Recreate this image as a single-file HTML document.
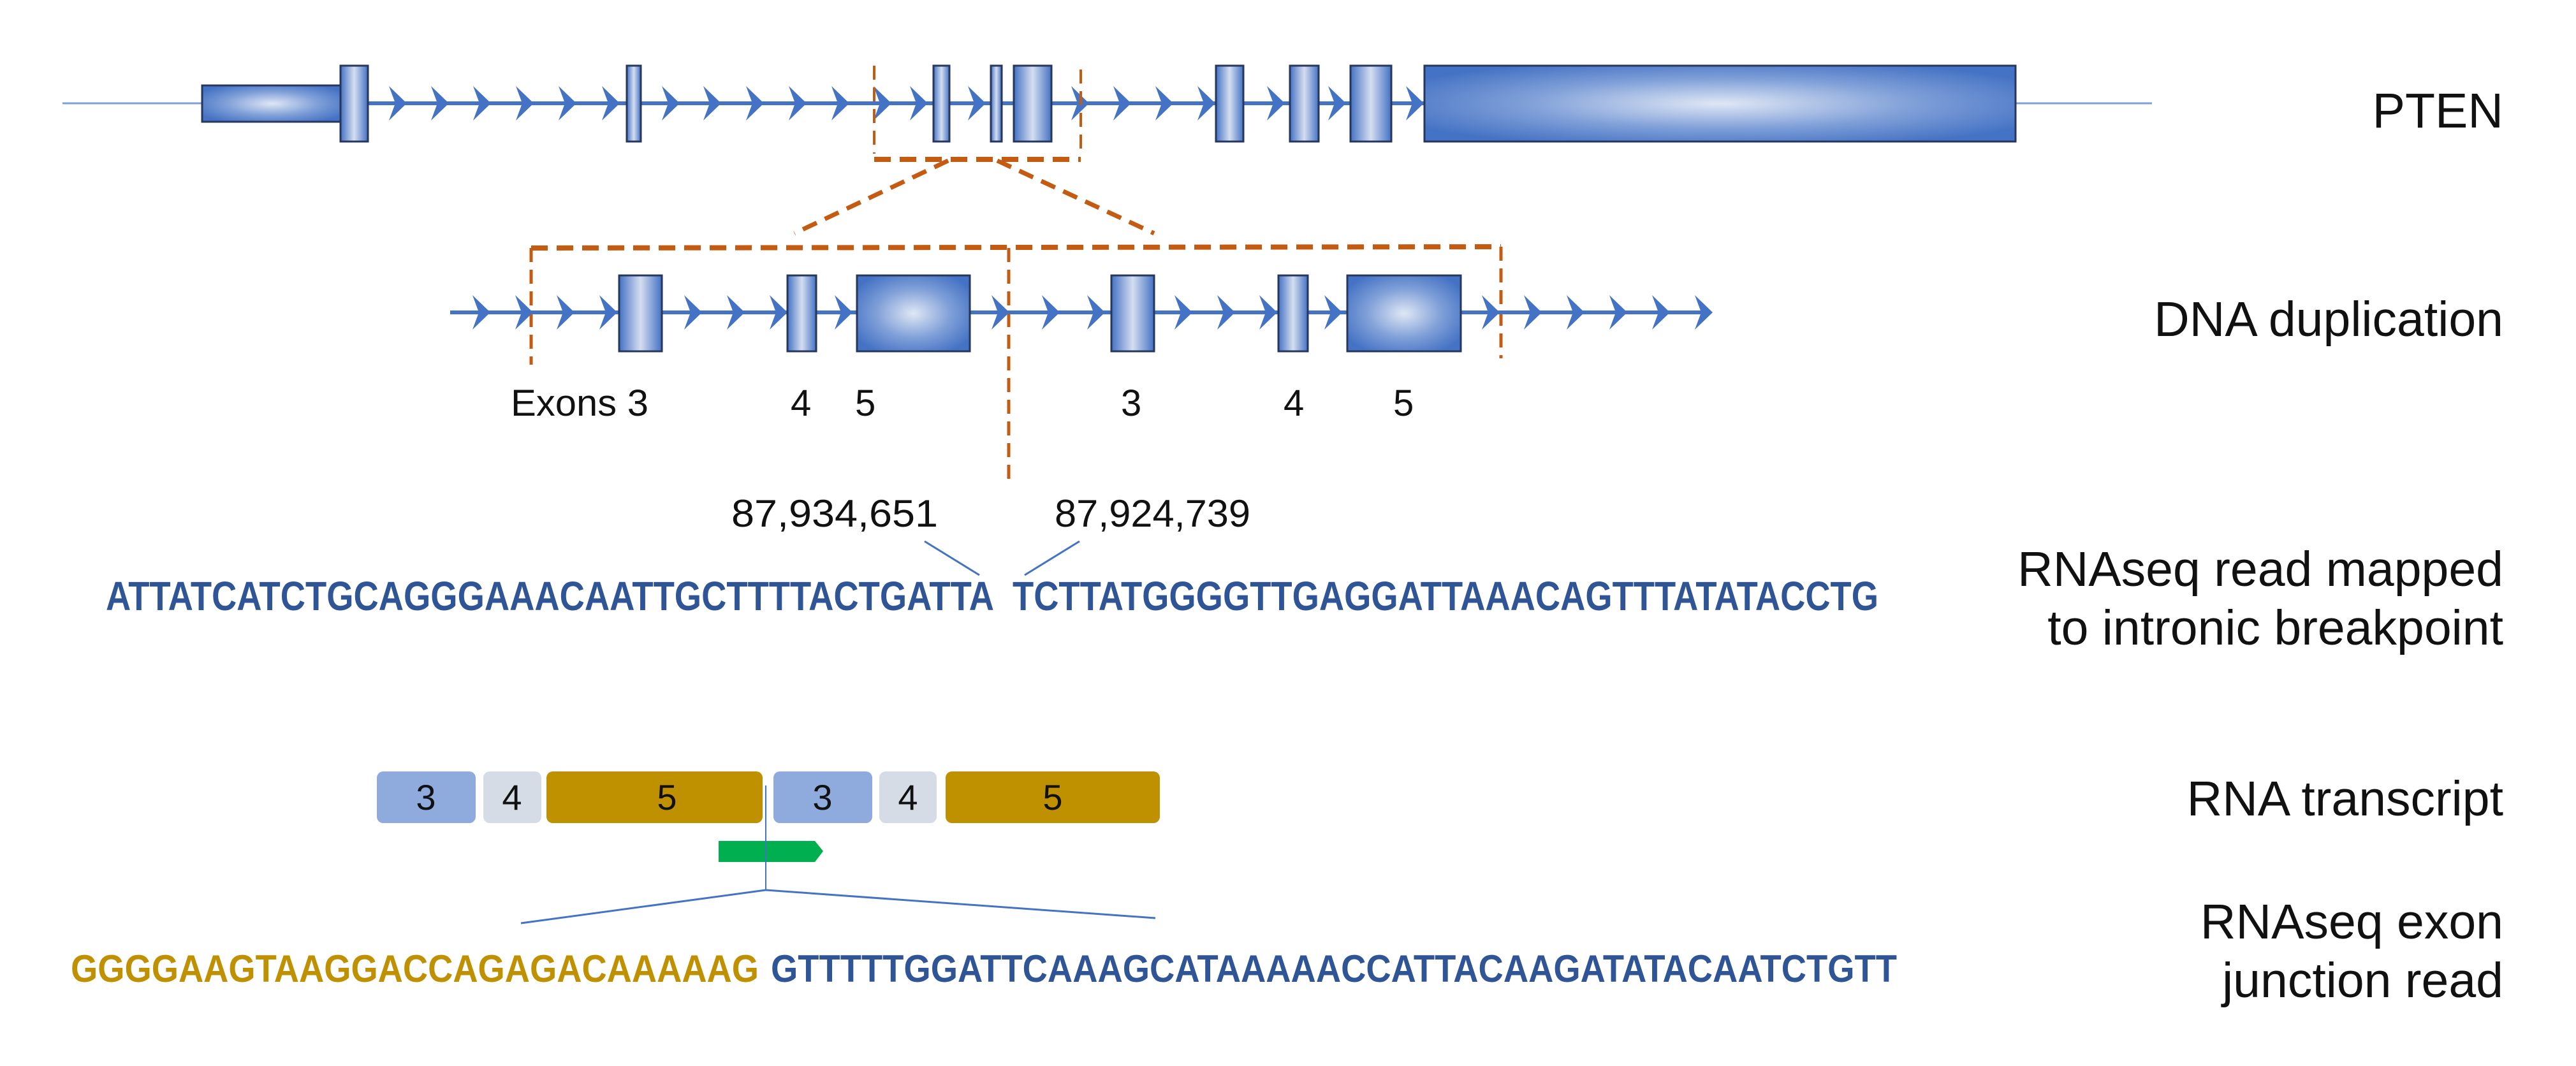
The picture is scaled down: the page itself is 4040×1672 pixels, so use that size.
<!DOCTYPE html>
<html><head><meta charset="utf-8"><style>
html,body{margin:0;padding:0;background:#fff;}
svg{display:block;}
text{font-family:"Liberation Sans",Arial,sans-serif;}
</style></head><body>
<svg width="4040" height="1672" viewBox="0 0 4040 1672" xmlns="http://www.w3.org/2000/svg">
<defs>
<radialGradient id="g" cx="50%" cy="50%" r="60%">
<stop offset="0" stop-color="#dfe7f5"/><stop offset="0.55" stop-color="#7f9fd8"/><stop offset="1" stop-color="#4472c4"/>
</radialGradient>
<linearGradient id="gh" x1="0" x2="1" y1="0" y2="0">
<stop offset="0" stop-color="#4472c4"/><stop offset="0.5" stop-color="#d5def0"/><stop offset="1" stop-color="#4472c4"/>
</linearGradient>
<path id="ar" d="M0,0 L-28,-27 L-18,0 L-28,27 Z" fill="#4472c4"/>
</defs>

<!-- Row 1 -->
<line x1="98" y1="162" x2="317" y2="162" stroke="#7f9fd8" stroke-width="3"/>
<line x1="3161" y1="162" x2="3375" y2="162" stroke="#7f9fd8" stroke-width="3"/>
<line x1="577" y1="162" x2="2234" y2="162" stroke="#4472c4" stroke-width="6"/>
<g>
<use href="#ar" x="638" y="162"/><use href="#ar" x="704" y="162"/><use href="#ar" x="770" y="162"/><use href="#ar" x="837" y="162"/><use href="#ar" x="904" y="162"/><use href="#ar" x="972" y="162"/>
<use href="#ar" x="1066" y="162"/><use href="#ar" x="1131" y="162"/><use href="#ar" x="1198" y="162"/><use href="#ar" x="1265" y="162"/><use href="#ar" x="1332" y="162"/><use href="#ar" x="1398" y="162"/>
<use href="#ar" x="1455" y="162"/><use href="#ar" x="1546" y="162"/>
<use href="#ar" x="1708" y="162"/><use href="#ar" x="1774" y="162"/><use href="#ar" x="1840" y="162"/><use href="#ar" x="1906" y="162"/>
<use href="#ar" x="2015" y="162"/><use href="#ar" x="2111" y="162"/><use href="#ar" x="2233" y="162"/>
</g>
<g stroke="#26365c" stroke-width="3">
<rect x="317" y="134" width="219" height="57" fill="url(#g)"/>
<rect x="534" y="103" width="43" height="119" fill="url(#gh)"/>
<rect x="983" y="103" width="22" height="119" fill="url(#gh)"/>
<rect x="1464" y="103" width="25" height="119" fill="url(#gh)"/>
<rect x="1554" y="103" width="17" height="119" fill="url(#gh)"/>
<rect x="1590" y="103" width="59" height="119" fill="url(#gh)"/>
<rect x="1907" y="103" width="43" height="119" fill="url(#gh)"/>
<rect x="2023" y="103" width="45" height="119" fill="url(#gh)"/>
<rect x="2118" y="103" width="64" height="119" fill="url(#gh)"/>
<rect x="2234" y="103" width="927" height="119" fill="url(#g)"/>
</g>

<!-- orange zoom -->
<g stroke="#c55a11" fill="none">
<line x1="1371" y1="103" x2="1371" y2="241" stroke-width="4" stroke-dasharray="22,12"/>
<line x1="1695" y1="109" x2="1695" y2="234" stroke-width="4" stroke-dasharray="22,12"/>
<line x1="1371" y1="250" x2="1695" y2="250" stroke-width="8" stroke-dasharray="26,14"/>
<line x1="1487" y1="252" x2="1246" y2="366" stroke-width="7" stroke-dasharray="24,14"/>
<line x1="1564" y1="252" x2="1810" y2="366" stroke-width="7" stroke-dasharray="24,14"/>
<line x1="833" y1="389" x2="2354" y2="387" stroke-width="8" stroke-dasharray="26,14"/>
<line x1="833" y1="389" x2="833" y2="572" stroke-width="5" stroke-dasharray="22,12"/>
<line x1="2354" y1="387" x2="2354" y2="562" stroke-width="5" stroke-dasharray="22,12"/>
<line x1="1582" y1="389" x2="1582" y2="762" stroke-width="5" stroke-dasharray="22,12"/>
</g>

<!-- Row 2 -->
<line x1="706" y1="490" x2="2670" y2="490" stroke="#4472c4" stroke-width="6"/>
<g>
<use href="#ar" x="769" y="490"/><use href="#ar" x="836" y="490"/><use href="#ar" x="901" y="490"/><use href="#ar" x="968" y="490"/>
<use href="#ar" x="1101" y="490"/><use href="#ar" x="1168" y="490"/><use href="#ar" x="1235" y="490"/><use href="#ar" x="1337" y="490"/>
<use href="#ar" x="1583" y="490"/><use href="#ar" x="1662" y="490"/><use href="#ar" x="1733" y="490"/>
<use href="#ar" x="1870" y="490"/><use href="#ar" x="1937" y="490"/><use href="#ar" x="2003" y="490"/><use href="#ar" x="2105" y="490"/>
<use href="#ar" x="2352" y="490"/><use href="#ar" x="2418" y="490"/><use href="#ar" x="2485" y="490"/><use href="#ar" x="2552" y="490"/><use href="#ar" x="2619" y="490"/><use href="#ar" x="2686" y="490"/>
</g>
<g stroke="#26365c" stroke-width="3">
<rect x="971" y="432" width="67" height="119" fill="url(#gh)"/>
<rect x="1235" y="432" width="45" height="119" fill="url(#gh)"/>
<rect x="1344" y="432" width="177" height="119" fill="url(#g)"/>
<rect x="1743" y="432" width="67" height="119" fill="url(#gh)"/>
<rect x="2005" y="432" width="46" height="119" fill="url(#gh)"/>
<rect x="2113" y="432" width="178" height="119" fill="url(#g)"/>
</g>
<g font-size="58" fill="#111">
<text x="801" y="652" textLength="216" lengthAdjust="spacingAndGlyphs">Exons 3</text>
<text x="1240" y="652">4</text>
<text x="1341" y="652">5</text>
<text x="1758" y="652">3</text>
<text x="2013" y="652">4</text>
<text x="2185" y="652">5</text>
</g>

<!-- breakpoint read -->
<g font-size="60" fill="#111">
<text x="1147" y="826" textLength="324" lengthAdjust="spacingAndGlyphs">87,934,651</text>
<text x="1654" y="826" textLength="307" lengthAdjust="spacingAndGlyphs">87,924,739</text>
</g>
<line x1="1450" y1="849" x2="1536" y2="902" stroke="#4472c4" stroke-width="3"/>
<line x1="1693" y1="849" x2="1607" y2="902" stroke="#4472c4" stroke-width="3"/>
<g font-size="64" font-weight="bold" fill="#2f5597">
<text x="166" y="957" textLength="1393" lengthAdjust="spacingAndGlyphs">ATTATCATCTGCAGGGAAACAATTGCTTTTACTGATTA</text>
<text x="1588" y="957" textLength="1358" lengthAdjust="spacingAndGlyphs">TCTTATGGGGTTGAGGATTAAACAGTTTATATACCTG</text>
</g>

<!-- transcript -->
<rect x="591" y="1210" width="155" height="81" rx="10" fill="#8faadc"/>
<rect x="758" y="1210" width="91" height="81" rx="10" fill="#d6dce5"/>
<rect x="857" y="1210" width="339" height="81" rx="10" fill="#bf9000"/>
<rect x="1213" y="1210" width="155" height="81" rx="10" fill="#8faadc"/>
<rect x="1379" y="1210" width="90" height="81" rx="10" fill="#d6dce5"/>
<rect x="1483" y="1210" width="336" height="81" rx="10" fill="#bf9000"/>
<g font-size="56" fill="#111" text-anchor="middle">
<text x="668" y="1270">3</text><text x="803" y="1270">4</text><text x="1046" y="1270">5</text>
<text x="1290" y="1270">3</text><text x="1424" y="1270">4</text><text x="1651" y="1270">5</text>
</g>
<path d="M1127,1319 L1278,1319 L1291,1335 L1278,1352 L1127,1352 Z" fill="#00b050"/>
<line x1="1201" y1="1232" x2="1201" y2="1396" stroke="#4472c4" stroke-width="2"/>
<line x1="1201" y1="1396" x2="817" y2="1448" stroke="#4472c4" stroke-width="3"/>
<line x1="1201" y1="1396" x2="1812" y2="1440" stroke="#4472c4" stroke-width="3"/>
<g font-size="60" font-weight="bold">
<text x="111" y="1540" fill="#bf9000" textLength="1079" lengthAdjust="spacingAndGlyphs">GGGGAAGTAAGGACCAGAGACAAAAAG</text>
<text x="1209" y="1540" fill="#2f5597" textLength="1766" lengthAdjust="spacingAndGlyphs">GTTTTTGGATTCAAAGCATAAAAACCATTACAAGATATACAATCTGTT</text>
</g>

<!-- right labels -->
<g font-size="77" fill="#111" text-anchor="end">
<text x="3926" y="200">PTEN</text>
<text x="3926" y="527">DNA duplication</text>
<text x="3926" y="919">RNAseq read mapped</text>
<text x="3926" y="1011">to intronic breakpoint</text>
<text x="3926" y="1279">RNA transcript</text>
<text x="3926" y="1472">RNAseq exon</text>
<text x="3926" y="1564">junction read</text>
</g>
</svg>
</body></html>
